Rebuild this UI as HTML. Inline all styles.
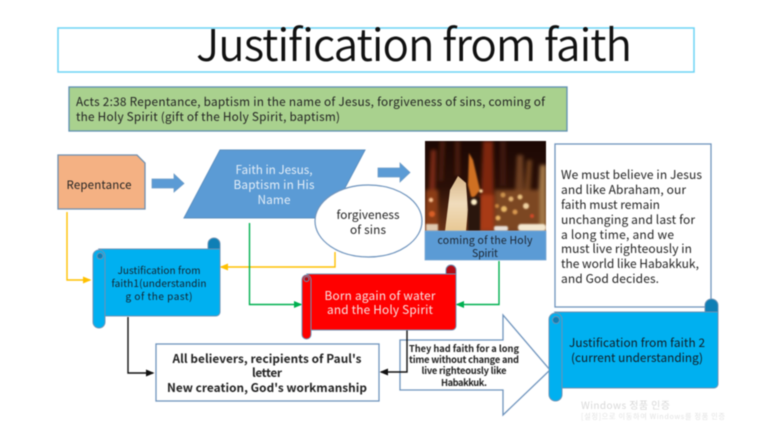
<!DOCTYPE html>
<html><head><meta charset="utf-8"><style>
html,body{margin:0;padding:0;background:#fff;width:773px;height:441px;overflow:hidden}
svg{display:block;filter:blur(.4px)}
text{font-family:"Noto Sans CJK KR","Liberation Sans",sans-serif;text-anchor:middle}
.l{text-anchor:start}
</style></head><body>
<svg width="773" height="441" viewBox="0 0 773 441" xmlns="http://www.w3.org/2000/svg">
<defs>
<linearGradient id="fl" x1="0" y1="0" x2="0" y2="1"><stop offset="0" stop-color="#1c0804"/><stop offset=".5" stop-color="#2a0f07"/><stop offset="1" stop-color="#6a3418"/></linearGradient>
<linearGradient id="cr" x1="0" y1="0" x2="0" y2="1"><stop offset="0" stop-color="#d8b688"/><stop offset=".5" stop-color="#f0dcbc"/><stop offset="1" stop-color="#e8c894"/></linearGradient>
<filter id="b2" x="-50%" y="-30%" width="200%" height="160%"><feGaussianBlur stdDeviation="1.800"/></filter>
<filter id="b1" x="-50%" y="-50%" width="200%" height="200%"><feGaussianBlur stdDeviation=".8"/></filter>
<clipPath id="c"><rect x="425" y="141" width="121" height="90"/></clipPath>
<marker id="y" markerWidth="6" markerHeight="6" refX="5" refY="3" orient="auto"><path d="M0 .5L6 3L0 5.500z" fill="#ffc000"/></marker>
<marker id="g" markerWidth="6" markerHeight="6" refX="5" refY="3" orient="auto"><path d="M0 .5L6 3L0 5.500z" fill="#00b050"/></marker>
<marker id="k" markerWidth="6" markerHeight="6" refX="5" refY="3" orient="auto"><path d="M0 .5L6 3L0 5.500z" fill="#111"/></marker>
</defs>

<!-- title -->
<rect x="58" y="28" width="636" height="44" fill="#fff" stroke="#6dd3f5" stroke-width="1.500"/>
<text x="414" y="61" font-size="44" font-weight="350" textLength="436" fill="#111">Justification from faith</text>

<!-- green -->
<rect x="69" y="87" width="498" height="44" fill="#a9d18e" stroke="#5f8fb3" stroke-width="1.300"/>
<text class="l" x="76" y="106" font-size="11.800" textLength="469" fill="#222">Acts 2:38 Repentance, baptism in the name of Jesus, forgiveness of sins, coming of</text>
<text class="l" x="76" y="121" font-size="11.800" textLength="264" fill="#222">the Holy Spirit (gift of the Holy Spirit, baptism)</text>

<!-- connectors -->
<path d="M67 212V280H90" fill="none" stroke="#ffc000" stroke-width="1.400" marker-end="url(#y)"/>
<path d="M335 252V267H221" fill="none" stroke="#ffc000" stroke-width="1.400" marker-end="url(#y)"/>
<path d="M249.500 223V304.500H301" fill="none" stroke="#00b050" stroke-width="1.400" marker-end="url(#g)"/>
<path d="M499 261V304.500H457" fill="none" stroke="#00b050" stroke-width="1.400" marker-end="url(#g)"/>
<path d="M128 317V373H153" fill="none" stroke="#111" stroke-width="1.400" marker-end="url(#k)"/>

<!-- repentance -->
<path d="M58 155H137L145 163V209H58Z" fill="#f4b183" stroke="#6f8fb0" stroke-width="1.300"/>
<text x="99" y="189" font-size="11.500" textLength="65" fill="#222">Repentance</text>

<!-- arrows -->
<path d="M152 179H174V174L184 183.500L174 192V188H152Z" fill="#5b9bd5" stroke="#6f9cc6" stroke-width=".8"/>
<path d="M378 168H400V163L410 172.500L400 182V177H378Z" fill="#5b9bd5" stroke="#6f9cc6" stroke-width=".8"/>

<!-- parallelogram -->
<path d="M220 150H365L329 218H184Z" fill="#5b9bd5" stroke="#5b8fc0" stroke-width="1"/>
<g fill="#e4eef8" font-size="11.800">
<text x="274" y="174" textLength="77">Faith in Jesus,</text>
<text x="274" y="189" textLength="81">Baptism in His</text>
<text x="274" y="204" textLength="33">Name</text>
</g>

<!-- ellipse -->
<ellipse cx="368.500" cy="221" rx="53.500" ry="36" fill="#fff" stroke="#6f94bd" stroke-width="1.200"/>
<text x="368" y="219" font-size="11.800" textLength="63" fill="#222">forgiveness</text>
<text x="368" y="234" font-size="11.800" textLength="36" fill="#222">of sins</text>

<!-- flame image -->
<g clip-path="url(#c)">
<rect x="425" y="141" width="121" height="90" fill="url(#fl)"/>
<g filter="url(#b2)">
<path d="M431 150h5l-1 45h-6z" fill="#7c2c12"/>
<path d="M440 141h5l-2 40h-4z" fill="#4a1d0c"/>
<path d="M455 141h5v35h-5z" fill="#4a1d0c"/>
<path d="M483 141h10l1 90h-14z" fill="#7e2810"/>
<path d="M480 195h14v36h-14z" fill="#a83a18"/>
<path d="M500 141h6v45h-6z" fill="#3e1509"/>
<path d="M517 155h6l1 40h-9z" fill="#6e4020"/>
<path d="M527 160h5l-2 35h-6z" fill="#70401e"/>
<path d="M540 165h6v66h-9z" fill="#a67a48"/>
<path d="M426 190h12v41h-13z" fill="#8c3c18"/>
<path d="M495 190h45v41h-45z" fill="#7c4620"/>
</g>
<path d="M445 231L450 190L458 176L466 183L468 210L466 231Z" fill="url(#cr)"/>
<path d="M469 153L473 160L480 190L472 200L468 185Z" fill="#cf6f20" filter="url(#b1)"/>
<path d="M468 197h12v34h-12z" fill="#2a160a" filter="url(#b1)"/>
<g filter="url(#b1)">
<circle cx="474" cy="202" r="3" fill="#fff0c8"/>
<circle cx="481" cy="191" r="1.800" fill="#ffd9a0"/>
<circle cx="431" cy="200" r="2.200" fill="#f7c090"/>
<circle cx="432" cy="214" r="3" fill="#d85f28"/>
<circle cx="434" cy="228" r="3" fill="#e8c8a0"/>
<circle cx="497" cy="206" r="2" fill="#c8843c"/>
<circle cx="503" cy="195" r="2.500" fill="#c9904c"/>
<circle cx="511" cy="199" r="2.500" fill="#e0b070"/>
<circle cx="520" cy="197" r="2.500" fill="#e8c080"/>
<circle cx="504" cy="209" r="3" fill="#e8b868"/>
<circle cx="515" cy="212" r="2.500" fill="#d89850"/>
<circle cx="526" cy="206" r="3" fill="#f0d0a0"/>
<circle cx="532" cy="216" r="2" fill="#d04828"/>
<circle cx="498" cy="218" r="2.500" fill="#e8b060"/>
<rect x="518" y="224" width="28" height="7" rx="3" fill="#f4e8d0"/>
<rect x="494" y="226" width="14" height="5" rx="2" fill="#e8e0d8"/>
<rect x="426" y="224" width="12" height="7" fill="#e0cab0"/>
</g>
</g>
<rect x="425" y="231" width="121" height="29" fill="#5b9bd5" stroke="#7eaad5" stroke-width=".8"/>
<text x="485" y="244" font-size="10.500" textLength="95" fill="#1a2430">coming of the Holy</text>
<text x="485" y="257" font-size="10.500" textLength="26" fill="#1a2430">Spirit</text>

<!-- right text box -->
<rect x="555" y="144" width="156" height="163" fill="#fff" stroke="#6f94bd" stroke-width="1.300"/>
<g font-size="12" fill="#222">
<text class="l" x="561" y="179" textLength="141">We must believe in Jesus</text>
<text class="l" x="561" y="194" textLength="125">and like Abraham, our</text>
<text class="l" x="561" y="209" textLength="99">faith must remain</text>
<text class="l" x="561" y="224" textLength="134">unchanging and last for</text>
<text class="l" x="561" y="239" textLength="113">a long time, and we</text>
<text class="l" x="561" y="253" textLength="131">must live righteously in</text>
<text class="l" x="561" y="268" textLength="138">the world like Habakkuk,</text>
<text class="l" x="561" y="283" textLength="98">and God decides.</text>
</g>

<!-- big arrow -->
<path d="M400 340H503V315L550 370L503 415V390H400Z" fill="#fff" stroke="#6f94bd" stroke-width="1.300"/>
<path d="M407 330V372H381" fill="none" stroke="#111" stroke-width="1.400" marker-end="url(#k)"/>
<g font-size="9.300" font-weight="700" fill="#222">
<text x="464" y="352" textLength="110">They had faith for a long</text>
<text x="464" y="363" textLength="110">time without change and</text>
<text x="464" y="374" textLength="85">live righteously like</text>
<text x="464" y="386" textLength="46">Habakkuk.</text>
</g>

<!-- white box -->
<rect x="156" y="344" width="223" height="57" fill="#fff" stroke="#6f94bd" stroke-width="1.300"/>
<g font-size="11.800" font-weight="700" fill="#222">
<text x="267" y="363" textLength="189">All believers, recipients of Paul's</text>
<text x="267" y="377" textLength="30">letter</text>
<text x="267" y="392" textLength="200">New creation, God's workmanship</text>
</g>

<!-- scroll 1 -->
<g stroke="#6d93b5" stroke-width="1">
<rect x="208" y="238" width="12" height="18" rx="6" fill="#0f7fb5"/>
<path d="M99 249H220V312a4 4 0 0 1-4 4H105V255Z" fill="#00b0f0"/>
<rect x="93" y="250" width="12" height="78" rx="6" fill="#00b0f0"/>
<circle cx="100" cy="256" r="3" fill="#0f7fb5"/>
</g>
<g font-size="10" fill="#14222c">
<text x="159" y="274" textLength="83">Justification from</text>
<text x="159" y="287" textLength="95">faith1(understandin</text>
<text x="159" y="300" textLength="67">g of the past)</text>
</g>

<!-- scroll red -->
<g stroke="#6d93b5" stroke-width="1">
<rect x="446" y="265" width="10" height="16" rx="5" fill="#b00c16"/>
<path d="M307 274H456V326a4 4 0 0 1-4 4H311V280Z" fill="#f00"/>
<rect x="302" y="275" width="9" height="64" rx="4.500" fill="#f00"/>
<circle cx="306.500" cy="279" r="2.500" fill="#b00c16"/>
</g>
<g font-size="11.800" fill="#f8e4e4">
<text x="380" y="300" textLength="111">Born again of water</text>
<text x="380" y="314" textLength="106">and the Holy Spirit</text>
</g>

<!-- scroll 3 -->
<g stroke="#6d93b5" stroke-width="1">
<rect x="705" y="299" width="13" height="20" rx="6.500" fill="#0f7fb5"/>
<path d="M555 312H718V384a4 4 0 0 1-4 4H562V318Z" fill="#00b0f0"/>
<rect x="549" y="313" width="13" height="88" rx="6.500" fill="#00b0f0"/>
<circle cx="556" cy="320" r="3.500" fill="#0f7fb5"/>
</g>
<g font-size="11.800" fill="#111c24">
<text x="637" y="347" textLength="136">Justification from faith 2</text>
<text x="637" y="362" textLength="132">(current understanding)</text>
</g>

<!-- watermark -->
<text x="625.500" y="409" font-size="10" textLength="89" fill="#d8d8d8">Windows 정품 인증</text>
<text x="653" y="419" font-size="7.200" textLength="144" fill="#e2e2e2">[설정]으로 이동하여 Windows를 정품 인증</text>
</svg>
</body></html>
